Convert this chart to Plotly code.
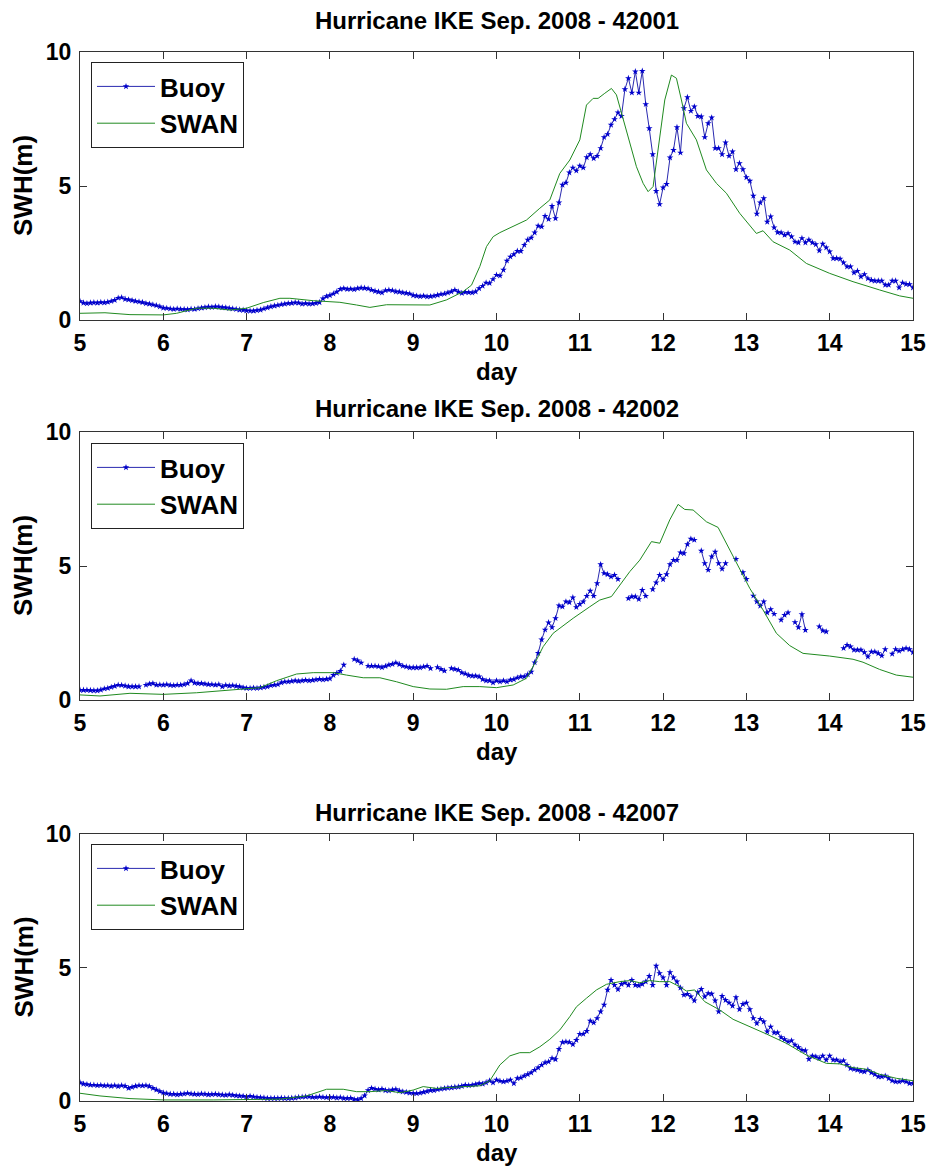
import plotly.graph_objects as go

# ---------------- data ----------------
# Buoy data: hourly values from day 5.00 to day 15.00 (241 samples); None = missing
n_hours = 241
buoy_days = [5 + h / 24 for h in range(n_hours)]

buoy_42001 = [
    0.70, 0.64, 0.62, 0.64, 0.65, 0.64, 0.66, 0.65, 0.67, 0.70, 0.74, 0.82, 0.84, 0.78, 0.76, 0.73, 0.70, 0.68, 0.66, 0.62, 0.60, 0.57, 0.54, 0.50,
    0.45, 0.44, 0.42, 0.40, 0.42, 0.40, 0.40, 0.39, 0.41, 0.40, 0.43, 0.45, 0.47, 0.49, 0.48, 0.50, 0.49, 0.47, 0.46, 0.44, 0.42, 0.40, 0.38, 0.37,
    0.35, 0.34, 0.34, 0.36, 0.38, 0.42, 0.46, 0.50, 0.53, 0.55, 0.58, 0.60, 0.62, 0.63, 0.65, 0.64, 0.60, 0.62, 0.60, 0.61, 0.63, 0.66, 0.80, 0.88,
    0.92, 0.98, 1.05, 1.15, 1.18, 1.15, 1.16, 1.14, 1.18, 1.20, 1.19, 1.17, 1.12, 1.08, 1.05, 1.02, 1.10, 1.12, 1.10, 1.06, 1.05, 1.02, 1.00, 0.98,
    0.92, 0.90, 0.88, 0.90, 0.87, 0.88, 0.90, 0.93, 0.96, 0.98, 1.02, 1.06, 1.12, 1.05, 1.00, 1.04, 1.03, 1.02, 1.06,
    1.18, 1.27, 1.39, 1.37, 1.52,
    1.68, 1.65, 1.87, 2.21, 2.36, 2.45, 2.57, 2.57, 2.80, 2.99, 3.07, 3.26, 3.51, 3.48, 3.88, 3.76, 4.25, 3.79, 4.38, 5.04,
    5.12, 5.50, 5.68, 5.57, 5.75, 5.68, 6.07, 6.18, 6.03, 6.12, 6.41, 6.82, 6.93, 7.28, 7.49, 7.74, 7.61, 8.61, 9.02, 8.48,
    9.27, 8.48, 9.29, 8.05, 7.15, 6.18, 4.81, 4.32, 4.94, 5.07, 6.06, 6.34, 7.19, 6.24, 7.90, 8.31, 7.80, 7.96, 7.61, 7.59,
    6.82, 7.34, 7.55, 6.41, 6.41, 6.18, 6.62, 6.12, 6.28, 5.62, 5.85, 5.62, 5.32, 5.19, 4.63, 3.96, 4.38, 4.54, 3.66, 3.86,
    3.45, 3.27, 3.26, 3.17, 3.23, 3.11, 2.92, 2.89, 3.05, 2.89, 2.99, 2.89, 2.82, 2.59, 2.84, 2.70, 2.55, 2.30, 2.30, 2.28,
    2.14, 1.99, 1.99, 1.77, 1.83, 1.62, 1.70, 1.55, 1.49, 1.46, 1.46, 1.46, 1.31, 1.31, 1.46, 1.46, 1.21, 1.39, 1.34, 1.33,
    1.21,
]

buoy_42002 = [
    0.37, 0.37, 0.37, 0.36, 0.35, 0.35, 0.38, 0.42, 0.44, 0.48, 0.52, 0.56, 0.55, 0.53, 0.50, 0.50, 0.50, 0.50, None, 0.56, 0.60, 0.62, 0.56, 0.57,
    0.56, 0.58, 0.55, 0.54, 0.56, 0.56, 0.58, 0.62, 0.72, 0.64, 0.62, 0.62, 0.60, 0.58, 0.58, 0.56, 0.58, 0.50, 0.55, 0.53, 0.54, 0.52, 0.50, 0.46,
    0.44, 0.44, 0.45, 0.44, 0.46, 0.48, 0.50, 0.54, 0.56, 0.58, 0.65, 0.68, 0.68, 0.70, 0.72, 0.70, 0.72, 0.74, 0.72, 0.74, 0.76, 0.78, 0.76, 0.78,
    0.80, 0.93, 1.00, 1.08, 1.31, None, None, 1.52, 1.47, 1.39, None, 1.27, 1.27, 1.27, 1.25, 1.22, 1.26, 1.31, 1.34, 1.39, 1.33, 1.27, 1.24, 1.21,
    1.21, 1.21, 1.21, 1.24, 1.27, 1.18, None, 1.22, 1.15, 1.09, None, 1.18, 1.15, 1.12, 1.02, 0.98, 0.92, 0.90, 0.90, 0.87, 0.77, 0.72, 0.72, 0.65,
    0.72, 0.68, 0.72, 0.68, 0.75, 0.77, 0.83, 0.87, 0.87, 0.95, 1.05, 1.40, 1.75, 2.25, 2.62, 2.89, 2.71, 3.05, 3.52, 3.48, 3.67, 3.64, 3.82, 3.46,
    3.58, 3.67, 3.88, 4.07, 3.88, 4.35, 5.06, 4.73, 4.69, 4.60, 4.66, 4.51, None, None, 3.79, 3.86, 3.86, 3.76, 4.10, 3.88, None, 4.13, 4.38, 4.66,
    4.50, 4.69, 5.06, 5.22, 5.22, 5.50, 5.47, 5.81, 6.01, 5.97, None, 5.57, 5.10, 4.85, 5.35, 5.53, 5.10, 4.89, 5.10, None, None, 5.26, None, 4.76,
    4.51, None, 3.89, 3.67, 3.51, 3.67, 3.26, 3.38, 3.21, None, 2.99, 3.17, 3.26, None, 2.90, 2.71, 3.20, 2.61, None, None, None, 2.74, 2.59, 2.55,
    None, None, None, None, 1.93, 2.05, 1.99, 1.87, 1.87, 1.87, 1.78, 1.62, 1.80, 1.80, 1.74, 1.65, 1.89, None, 1.72, 1.89, 1.83, 1.89, 1.93, 1.89,
    1.78,
]

buoy_42007 = [
    0.69, 0.64, 0.62, 0.60, 0.60, 0.58, 0.59, 0.57, 0.58, 0.56, 0.58, 0.55, 0.58, 0.56, 0.48, 0.52, 0.56, 0.58, 0.57, 0.58, 0.55, 0.48, 0.42, 0.36,
    0.31, 0.28, 0.26, 0.26, 0.24, 0.26, 0.27, 0.29, 0.27, 0.26, 0.25, 0.27, 0.26, 0.24, 0.25, 0.26, 0.24, 0.23, 0.22, 0.24, 0.22, 0.20, 0.19, 0.18,
    0.16, 0.18, 0.16, 0.14, 0.13, 0.12, 0.10, 0.10, 0.10, 0.10, 0.11, 0.10, 0.10, 0.11, 0.12, 0.14, 0.15, 0.16, 0.16, 0.14, 0.14, 0.16, 0.14, 0.13,
    0.14, 0.14, 0.12, 0.13, 0.10, 0.10, 0.11, 0.06, 0.05, 0.10, 0.20, 0.40, 0.48, 0.45, 0.42, 0.45, 0.40, 0.39, 0.42, 0.44, 0.38, 0.35, 0.33, 0.30,
    0.29, 0.28, 0.30, 0.33, 0.36, 0.40, 0.40, 0.43, 0.45, 0.47, 0.49, 0.50, 0.52, 0.53, 0.56, 0.60, 0.58, 0.60, 0.62,
    0.66, 0.64, 0.69, 0.76, 0.69, 0.79, 0.75, 0.72, 0.75, 0.79, 0.66, 0.85, 0.87, 0.94, 1.00, 1.06, 1.16, 1.25, 1.35, 1.44,
    1.47, 1.60, 1.56, 1.94, 2.20, 2.22, 2.20, 2.12, 2.28, 2.51, 2.51, 2.62, 3.00, 2.93, 3.10, 3.35, 3.60, 4.16, 4.53, 4.34,
    4.18, 4.38, 4.43, 4.34, 4.53, 4.34, 4.32, 4.38, 4.47, 4.68, 4.34, 5.06, 4.78, 4.62, 4.34, 4.82, 4.62, 4.47, 4.24, 3.97,
    4.00, 3.91, 3.76, 4.07, 4.19, 3.91, 4.03, 4.01, 3.76, 3.35, 3.93, 3.78, 3.68, 3.56, 3.88, 3.43, 3.63, 3.68, 3.43, 3.10,
    2.91, 3.07, 2.97, 2.60, 2.78, 2.56, 2.56, 2.38, 2.31, 2.22, 2.26, 2.10, 2.01, 1.91, 1.89, 1.57, 1.69, 1.66, 1.60, 1.69,
    1.54, 1.69, 1.54, 1.54, 1.47, 1.51, 1.35, 1.22, 1.19, 1.16, 1.12, 1.10, 1.16, 1.06, 1.00, 0.91, 0.91, 0.94, 0.85, 0.76,
    0.72, 0.72, 0.76, 0.72, 0.66, 0.66,
]

# SWAN model output
swan_days_42001 = [5.0, 5.3, 5.6, 6.0, 6.16, 6.4, 6.6, 6.8, 7.0, 7.2, 7.4, 7.52, 7.8, 8.12, 8.32, 8.48, 8.68, 9.0, 9.2, 9.4,
                   9.6, 9.7, 9.8, 9.88, 9.96, 10.04, 10.2, 10.36, 10.52, 10.64, 10.76, 10.88, 11.0, 11.08, 11.16, 11.22, 11.3,
                   11.38, 11.44, 11.52, 11.6, 11.68, 11.76, 11.82, 11.88, 11.94, 12.02, 12.1, 12.16, 12.22, 12.28, 12.4, 12.52,
                   12.64, 12.76, 12.92, 13.12, 13.2, 13.32, 13.52, 13.72, 14.0, 14.28, 14.6, 14.84, 15.0]
swan_42001 = [0.25, 0.27, 0.20, 0.19, 0.25, 0.44, 0.44, 0.37, 0.44, 0.65, 0.81, 0.81, 0.72, 0.66, 0.56, 0.47, 0.57, 0.55, 0.56, 0.75,
              1.06, 1.30, 2.00, 2.74, 3.11, 3.26, 3.48, 3.73, 4.17, 4.48, 5.47, 5.97, 6.72, 8.02, 8.27, 8.27, 8.46,
              8.64, 8.40, 7.52, 6.59, 5.72, 5.10, 4.79, 4.98, 6.34, 8.21, 9.14, 9.02, 8.21, 7.34, 6.72, 5.60,
              5.10, 4.73, 3.98, 3.23, 3.33, 2.92, 2.61, 2.11, 1.74, 1.43, 1.12, 0.90, 0.81]

swan_days_42002 = [5.0, 5.24, 5.6, 6.0, 6.4, 6.68, 7.0, 7.16, 7.36, 7.6, 7.8, 8.04, 8.2, 8.4, 8.6, 8.8, 9.0, 9.2, 9.4, 9.6,
                   9.8, 10.0, 10.2, 10.36, 10.46, 10.56, 10.68, 10.92, 11.12, 11.24, 11.38, 11.48, 11.6, 11.72, 11.86, 11.96,
                   12.08, 12.18, 12.26, 12.36, 12.52, 12.66, 12.76, 12.88, 13.04, 13.2, 13.36, 13.52, 13.68, 14.0, 14.28,
                   14.4, 14.6, 14.8, 15.0]
swan_42002 = [0.19, 0.15, 0.25, 0.21, 0.27, 0.35, 0.44, 0.46, 0.72, 0.97, 1.02, 1.02, 0.93, 0.83, 0.83, 0.68, 0.50, 0.41, 0.40, 0.50,
              0.50, 0.46, 0.56, 0.81, 1.37, 1.99, 2.49, 3.05, 3.48, 3.73, 3.86, 4.29, 4.79, 5.22, 5.91, 5.85,
              6.72, 7.30, 7.11, 7.09, 6.65, 6.44, 5.85, 5.10, 4.17, 3.36, 2.49, 2.03, 1.74, 1.64, 1.52,
              1.41, 1.14, 0.93, 0.85]

swan_days_42007 = [5.0, 5.24, 5.6, 6.0, 6.6, 7.0, 7.4, 7.72, 7.96, 8.16, 8.32, 8.48, 8.68, 8.84, 9.0, 9.12, 9.28, 9.4, 9.6,
                   9.8, 9.92, 10.04, 10.16, 10.28, 10.4, 10.52, 10.64, 10.76, 10.88, 10.96, 11.08, 11.2, 11.32, 11.48,
                   11.6, 11.72, 11.84, 11.96, 12.08, 12.2, 12.28, 12.38, 12.5, 12.68, 12.84, 13.0, 13.24, 13.48, 13.72,
                   13.96, 14.12, 14.28, 14.44, 14.6, 14.8, 15.0]
swan_42007 = [0.29, 0.19, 0.09, 0.04, 0.04, 0.06, 0.07, 0.19, 0.44, 0.44, 0.35, 0.35, 0.39, 0.31, 0.41, 0.54, 0.47, 0.50, 0.54,
              0.57, 0.76, 1.35, 1.69, 1.81, 1.81, 2.03, 2.31, 2.66, 3.16, 3.53, 3.85, 4.16, 4.37, 4.47,
              4.51, 4.43, 4.51, 4.47, 4.47, 4.28, 4.12, 4.16, 3.72, 3.41, 3.06, 2.85, 2.51, 2.16, 1.72,
              1.41, 1.39, 1.25, 1.19, 1.00, 0.85, 0.76]

station_ids = ["42001", "42002", "42007"]
x_ticks = list(range(5, 16))
y_ticks = [0, 5, 10]

# ---------------- figure ----------------
W, H = 932, 1167
plot_tops = [52, 432, 834]
plot_bottoms = [320, 700, 1101]
title_y = [20.5, 409, 812]
day_y = [371, 751, 1152]
legend_top = [62, 443, 844]

FONT = "Liberation Sans"
BLUE_LINE = "#2a2ab0"
BLUE_MARK = "#0000cc"
GREEN = "#208a20"
FRAME = "#333333"

def py(px):
    return 1 - px / H

fig = go.Figure()
buoys = [buoy_42001, buoy_42002, buoy_42007]
swans = [(swan_days_42001, swan_42001), (swan_days_42002, swan_42002), (swan_days_42007, swan_42007)]

annotations = []
for k in range(3):
    sfx = "" if k == 0 else str(k + 1)
    leg = "legend" if k == 0 else f"legend{k + 1}"
    fig.add_trace(go.Scatter(
        x=buoy_days, y=buoys[k], name="Buoy", mode="lines+markers",
        line=dict(color=BLUE_LINE, width=1),
        marker=dict(symbol="star", size=5, color=BLUE_MARK, line=dict(width=0)),
        connectgaps=False, xaxis="x" + sfx, yaxis="y" + sfx, legend=leg,
    ))
    fig.add_trace(go.Scatter(
        x=swans[k][0], y=swans[k][1], name="SWAN", mode="lines",
        line=dict(color=GREEN, width=1),
        xaxis="x" + sfx, yaxis="y" + sfx, legend=leg,
    ))
    dom = [py(plot_bottoms[k]), py(plot_tops[k])]
    common = dict(ticks="inside", ticklen=7, tickwidth=1, tickcolor=FRAME,
                  showline=True, linecolor=FRAME, linewidth=1, mirror="allticks",
                  showgrid=False, zeroline=False,
                  tickfont=dict(family=FONT, size=23, color="black", weight="bold"))
    fig.update_layout({
        "xaxis" + sfx: dict(domain=[0, 1], range=[5, 15], tickvals=x_ticks,
                            anchor="y" + sfx, ticklabelstandoff=2, **common),
        "yaxis" + sfx: dict(domain=dom, range=[0, 10], tickvals=y_ticks,
                            anchor="x" + sfx, ticklabelstandoff=3, **common),
        leg: dict(x=(91 - 80) / (W - 99), y=py(legend_top[k]), xanchor="left", yanchor="top",
                  bgcolor="white", bordercolor="#222222", borderwidth=1,
                  font=dict(family=FONT, size=26, color="black", weight="bold"),
                  itemwidth=58, tracegroupgap=0),
    })
    annotations.append(dict(text=f"Hurricane IKE Sep. 2008 - {station_ids[k]}", xref="paper", yref="paper",
                            x=0.5, y=py(title_y[k]), xanchor="center", yanchor="middle", showarrow=False,
                            font=dict(family=FONT, size=24, color="black", weight="bold")))
    annotations.append(dict(text="day", xref="paper", yref="paper",
                            x=0.5, y=py(day_y[k]), xanchor="center", yanchor="middle", showarrow=False,
                            font=dict(family=FONT, size=24, color="black", weight="bold")))
    annotations.append(dict(text="SWH(m)", xref="paper", yref="paper", textangle=-90,
                            x=(23 - 80) / (W - 99), y=py((plot_tops[k] + plot_bottoms[k]) / 2),
                            xanchor="center", yanchor="middle", showarrow=False,
                            font=dict(family=FONT, size=26, color="black", weight="bold")))

fig.update_layout(
    width=W, height=H, template="none",
    margin=dict(l=80, r=19, t=0, b=0, autoexpand=False),
    paper_bgcolor="white", plot_bgcolor="white",
    annotations=annotations,
    showlegend=True,
)

fig.write_html("out.html")
